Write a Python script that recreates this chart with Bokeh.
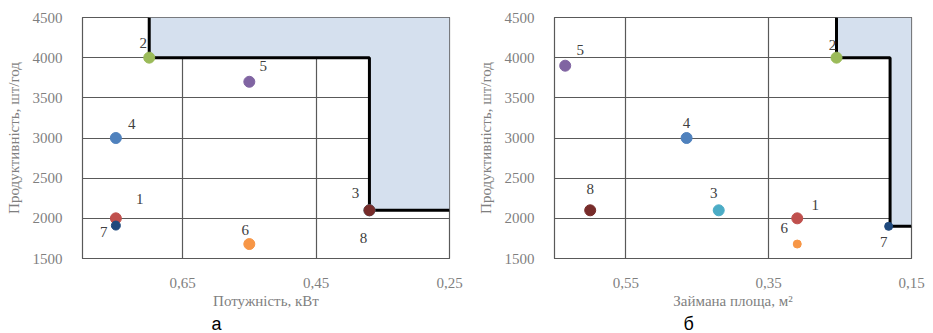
from bokeh.plotting import figure
from bokeh.layouts import row
from bokeh.models import Range1d, FixedTicker, CustomJSTickFormatter, ColumnDataSource, Title
from bokeh.core.properties import value
from bokeh.embed import file_html
from bokeh.resources import INLINE

# ---- data ----
labels = ["1", "2", "3", "4", "5", "6", "7", "8"]
colors = ["#C0504D", "#9BBB59", "#4BACC6", "#4F81BD", "#8064A2", "#F79646", "#1F497D", "#772C2A"]
productivity = [2000, 4000, 2100, 3000, 3700, 1680, 1910, 2100]

# chart a: power, kW
power = [0.75, 0.70, 0.37, 0.75, 0.55, 0.55, 0.75, 0.37]
front_a_x = [0.70, 0.70, 0.37, 0.37, 0.25]
front_a_y = [4500, 4000, 4000, 2100, 2100]
ticks_a = [0.65, 0.45, 0.25]

# chart b: occupied area, m2
productivity_b = [2000, 4000, 2100, 3000, 3900, 1680, 1900, 2100]
area = [0.31, 0.255, 0.42, 0.465, 0.635, 0.31, 0.182, 0.60]
front_b_x = [0.255, 0.255, 0.18, 0.18, 0.15]
front_b_y = [4500, 4000, 4000, 1900, 1900]
ticks_b = [0.55, 0.35, 0.15]

y_ticks = [1500, 2000, 2500, 3000, 3500, 4000, 4500]

# styles
sizes_a = [11, 11, 11, 11, 11, 11, 9, 11]
sizes_b = [11, 11, 11, 11, 11, 8, 8, 11]
off_a_x = [24, -6, -14, 16, 14, -4, -12, -6]
off_a_y = [-19, -15, -17, -14, -16, -14, 6, 28]
off_b_x = [18, -4, -5, 0, 15, -13, -5, 0]
off_b_y = [-13, -13, -17, -15, -16, -16, 16, -21]

GRID = "#595959"
TXT = "#7F7F7F"
FILL = "#D5E0EE"
SERIF = "Liberation Serif"
SERIF_AX = "Liberation Serif, serif"


def make(xs, ys, fx, fy, xticks, xstart, xend, xlabel, sub, sizes, ox, oy,
         width, mb, sub_offset):
    p = figure(width=width, height=333, output_backend="svg", toolbar_location=None,
               x_range=Range1d(xstart, xend), y_range=Range1d(1500, 4500),
               min_border_left=mb[0], min_border_right=mb[1],
               min_border_top=mb[2], min_border_bottom=mb[3])
    p.background_fill_color = "white"
    p.border_fill_color = "white"
    p.outline_line_color = GRID
    p.outline_line_width = 1.2

    # shaded region beyond the front
    px = list(fx) + [fx[-1]]
    py = list(fy) + [fy[0]]
    p.patch(px, py, fill_color=FILL, line_color=None)

    p.xaxis.ticker = FixedTicker(ticks=xticks)
    p.yaxis.ticker = FixedTicker(ticks=y_ticks)
    p.xgrid.ticker = FixedTicker(ticks=xticks)
    p.ygrid.ticker = FixedTicker(ticks=y_ticks)
    for g in (p.xgrid, p.ygrid):
        g.grid_line_color = GRID
        g.grid_line_width = 1.2
    p.xaxis.formatter = CustomJSTickFormatter(code="return tick.toFixed(2).replace('.', ',');")

    for ax in list(p.xaxis) + list(p.yaxis):
        ax.axis_line_color = GRID
        ax.major_tick_line_color = None
        ax.minor_tick_line_color = None
        ax.major_label_text_font = SERIF_AX
        ax.major_label_text_font_size = "15px"
        ax.major_label_text_color = TXT
        ax.axis_label_text_font = SERIF_AX
        ax.axis_label_text_font_size = "15px"
        ax.axis_label_text_font_style = "normal"
        ax.axis_label_text_color = TXT
        ax.major_label_text_font_style = "normal"
    p.xaxis.major_label_standoff = 13
    p.xaxis.axis_label_standoff = 2
    p.yaxis.major_label_standoff = 14
    p.yaxis.axis_label_standoff = 8
    p.xaxis.axis_label = xlabel
    p.yaxis.axis_label = "Продуктивність, шт/год"

    p.line(fx, fy, line_color="black", line_width=3)

    src = ColumnDataSource(dict(x=xs, y=ys, c=colors, s=sizes, t=labels, ox=ox, oy=oy))
    p.scatter("x", "y", source=src, size="s", fill_color="c", line_color="c")
    p.text("x", "y", text="t", source=src, x_offset="ox", y_offset="oy",
           text_font=value(SERIF), text_font_size="15px", text_color="#404040",
           text_align="center", text_baseline="middle")

    p.add_layout(Title(text=sub, text_font="Liberation Sans", text_font_size="18px",
                       text_font_style="normal", text_color="black",
                       align="left", offset=sub_offset, standoff=0), "below")
    return p


pa = make(power, productivity, front_a_x, front_a_y, ticks_a, 0.80, 0.25,
          "Потужність, кВт", "а", sizes_a, off_a_x, off_a_y,
          466, (82, 17, 17, 73), 129)
pb = make(area, productivity_b, front_b_x, front_b_y, ticks_b, 0.65, 0.15,
          "Займана площа, м²", "б", sizes_b, off_b_x, off_b_y,
          466, (88, 21, 17, 73), 129)

layout = row(pa, pb, spacing=0)
open("out.html", "w").write(file_html(layout, INLINE))
